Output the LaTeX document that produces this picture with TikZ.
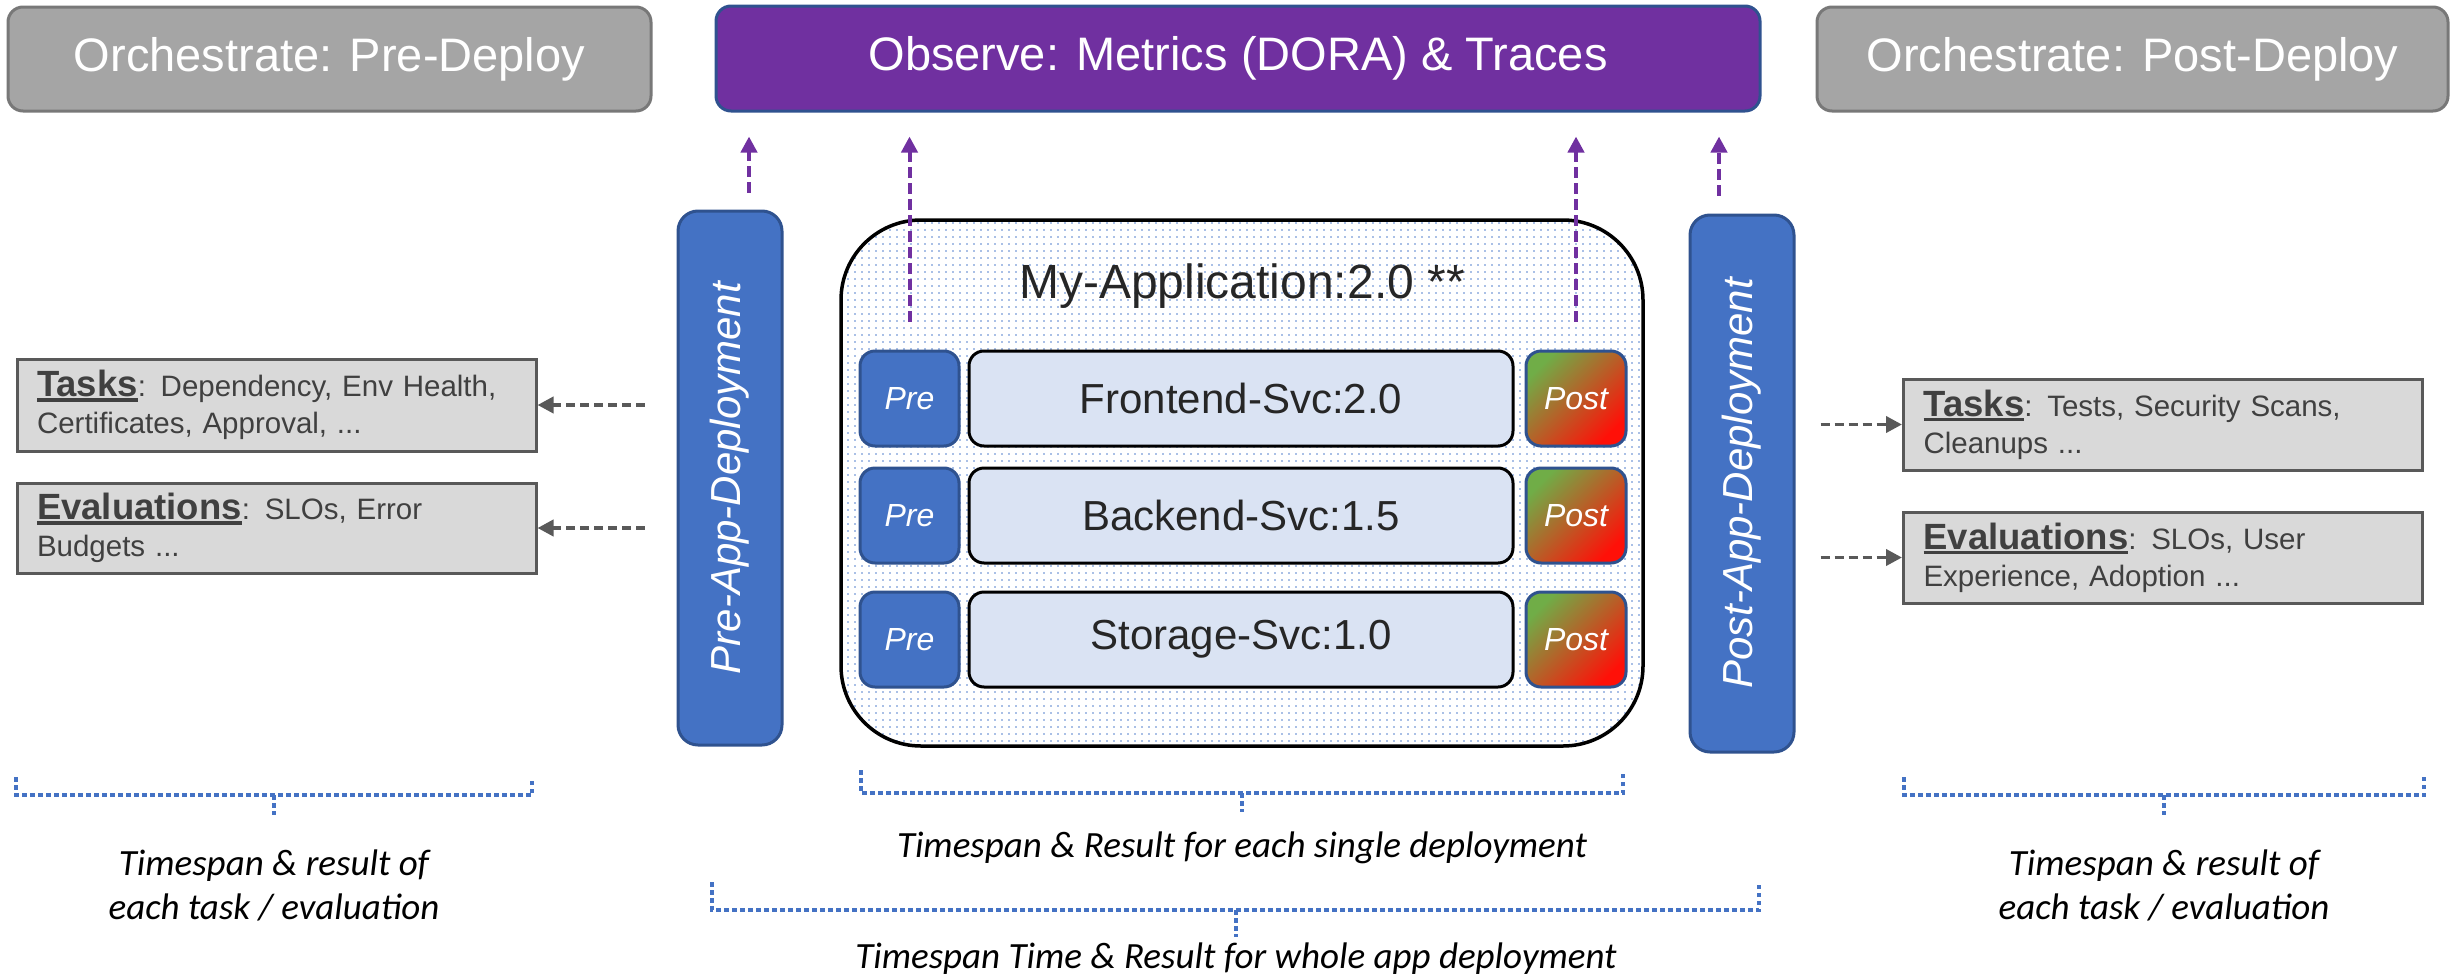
\documentclass[tikz,border=0pt]{standalone}
\usepackage{fontspec}
\setmainfont{Liberation Sans}
\newfontfamily\capfont{Carlito}
\usepackage{xcolor}
\definecolor{stagegray}{RGB}{165,165,165}
\definecolor{stagegrayline}{RGB}{120,120,120}
\definecolor{observepurple}{RGB}{112,48,160}
\definecolor{deployblue}{RGB}{68,114,196}
\definecolor{deployline}{RGB}{47,82,143}
\definecolor{svcfill}{RGB}{218,227,243}
\definecolor{taskfill}{RGB}{217,217,217}
\definecolor{taskline}{RGB}{89,89,89}
\definecolor{tasktext}{RGB}{64,64,64}
\definecolor{dotblue}{RGB}{170,192,230}
\definecolor{postgreen}{RGB}{112,173,71}
\definecolor{postorange}{RGB}{200,128,56}
\definecolor{postred}{RGB}{255,16,8}
\usepackage{tikz}
\usetikzlibrary{arrows.meta,patterns.meta}
\tikzdeclarepattern{
  name=appdots,
  type=uncolored,
  bottom left={(0pt,0pt)},
  top right={(7pt,7pt)},
  tile size={(7pt,7pt)},
  code={\fill (0pt,0pt) rectangle (2.2pt,2.2pt);}
}
\newcommand{\keyword}[1]{{\fontsize{36.5}{37}\selectfont\bfseries\setbox0\hbox{#1}\rlap{\rule[-5pt]{\wd0}{3.5pt}}\box0}}
\tikzset{
  stage box/.style={draw=stagegrayline, fill=stagegray, line width=3pt, rounded corners=15pt, text=white, inner sep=0pt, minimum height=104pt, font=\fontsize{47}{56}\selectfont},
  observe box/.style={stage box, draw=deployline, fill=observepurple},
  phase bar/.style={draw=deployline, fill=deployblue, line width=3pt, rounded corners=20pt, inner sep=0pt, minimum width=104pt},
  phase label/.style={rotate=90, text=white, font=\fontsize{42}{50}\selectfont\itshape},
  app box/.style={draw=black, line width=3.5pt, rounded corners=80pt, pattern=appdots, pattern color=dotblue, minimum width=802pt, minimum height=526pt, inner sep=0pt},
  svc box/.style={draw=black, fill=svcfill, line width=3pt, rounded corners=15pt, minimum width=544pt, minimum height=95pt, inner sep=0pt, text=black!85, font=\fontsize{42}{50}\selectfont},
  pre box/.style={draw=deployline, fill=deployblue, line width=3pt, rounded corners=15pt, minimum width=99pt, minimum height=95pt, inner sep=0pt, text=white, font=\fontsize{32}{38}\selectfont\itshape},
  post box/.style={pre box, minimum width=100pt, top color=postgreen, middle color=postorange, bottom color=postred, shading angle=45},
  task box/.style={draw=taskline, fill=taskfill, line width=3pt, text width=479pt, inner xsep=20pt, inner ysep=0pt, align=left, text=tasktext, font=\fontsize{29.5}{37}\selectfont},
  obs edge/.style={-{Triangle[length=16pt,width=16pt]}, observepurple, line width=4pt, dash pattern=on 11pt off 5pt},
  task edge/.style={-{Triangle[length=16pt,width=16pt]}, taskline, line width=3.8pt, dash pattern=on 9pt off 5pt},
  span brace/.style={deployblue, line width=4.5pt, dash pattern=on 4.5pt off 3.5pt},
  span label/.style={align=center, text=black, font=\fontsize{37}{44}\selectfont\capfont\itshape},
}

\begin{document}
\begin{tikzpicture}[x=1pt, y=-1pt]
  \useasboundingbox (0,0) rectangle (2453,980);
  % top row
  \node[stage box, minimum width=643pt] (predeploy) at (329.5,59) {Orchestrate: Pre-Deploy};
  \node[observe box, minimum width=1044pt, minimum height=105pt] (obs) at (1238,58.5) {Observe: Metrics (DORA) \& Traces};
  \node[stage box, minimum width=631pt] (postdeploy) at (2132.5,59) {Orchestrate: Post-Deploy};

  % application and its services
  \node[app box] (app) at (1242,483) {};
  \node[text=black!85, font=\fontsize{48}{56}\selectfont] (apptitle) at (1242,286) {My-Application:2.0 **};
  \node[pre box] (pre1) at (909.5,398.5) {Pre};
  \node[svc box] (svc1) at (1241,398.5) {Frontend-Svc:2.0};
  \node[post box] (post1) at (1576,398.5) {Post};
  \node[pre box] (pre2) at (909.5,515.5) {Pre};
  \node[svc box] (svc2) at (1241,515.5) {Backend-Svc:1.5};
  \node[post box] (post2) at (1576,515.5) {Post};
  \node[pre box] (pre3) at (909.5,639.5) {Pre};
  \node[svc box] (svc3) at (1241,639.5) {Storage-Svc:1.0};
  \node[post box] (post3) at (1576,639.5) {Post};

  % app level phases
  \node[phase bar, minimum height=534pt] (prebar) at (730,478) {};
  \node[phase label] (prelabel) at (prebar.center) {Pre-App-Deployment};
  \node[phase bar, minimum height=537pt] (postbar) at (1742,483.5) {};
  \node[phase label] (postlabel) at (postbar.center) {Post-App-Deployment};

  % tasks and evaluations
  \node[task box, minimum height=92pt] (tasksL) at (276.5,405) {\keyword{Tasks}: Dependency, Env Health,\\Certificates, Approval, ...};
  \node[task box, minimum height=90pt] (evalL) at (276.5,528) {\keyword{Evaluations}: SLOs, Error\\Budgets ...};
  \node[task box, minimum height=91pt] (tasksR) at (2163,424.5) {\keyword{Tasks}: Tests, Security Scans,\\Cleanups ...};
  \node[task box, minimum height=91pt] (evalR) at (2163,557.5) {\keyword{Evaluations}: SLOs, User\\Experience, Adoption ...};

  % traces up to observe
  \coordinate (prefoot) at ([xshift=19pt,yshift=17pt]prebar.north);
  \coordinate (postfoot) at ([xshift=-23pt,yshift=18pt]postbar.north);
  \coordinate (svcprefoot) at ([yshift=28pt]pre1.north);
  \coordinate (svcpostfoot) at ([yshift=28pt]post1.north);
  \draw[obs edge, shorten >=24pt] (prefoot) -- (prefoot |- obs.south);
  \draw[obs edge, shorten >=24pt] (svcprefoot) -- (svcprefoot |- obs.south);
  \draw[obs edge, shorten >=24pt] (svcpostfoot) -- (svcpostfoot |- obs.south);
  \draw[obs edge, shorten >=24pt] (postfoot) -- (postfoot |- obs.south);

  % phases to their tasks
  \coordinate (preout) at ([xshift=-32pt]prebar.west);
  \coordinate (postout) at ([xshift=25pt]postbar.east);
  \draw[task edge] (preout |- tasksL.east) -- (tasksL.east);
  \draw[task edge] (preout |- evalL.east) -- (evalL.east);
  \draw[task edge] (postout |- tasksR.west) -- (tasksR.west);
  \draw[task edge] (postout |- evalR.west) -- (evalR.west);

  % timespans
  \draw[span brace] (16,777) |- (532,795) -- (532,777) (274,795) -- (274,815);
  \draw[span brace] (861,770) |- (1623,793) -- (1623,770) (1242,793) -- (1242,812);
  \draw[span brace] (1904,777) |- (2424,795) -- (2424,777) (2164,795) -- (2164,815);
  \draw[span brace] (712,882) |- (1759,910) -- (1759,882) (1236,910) -- (1236,937);
  \node[span label] (spanL) at (274,885) {Timespan \& result of\\each task / evaluation};
  \node[span label, anchor=base] (spanM) at (1242,857) {Timespan \& Result for each single deployment};
  \node[span label, anchor=base] (spanB) at (1236,968) {Timespan Time \& Result for whole app deployment};
  \node[span label] (spanR) at (2164,885) {Timespan \& result of\\each task / evaluation};
\end{tikzpicture}
\end{document}
